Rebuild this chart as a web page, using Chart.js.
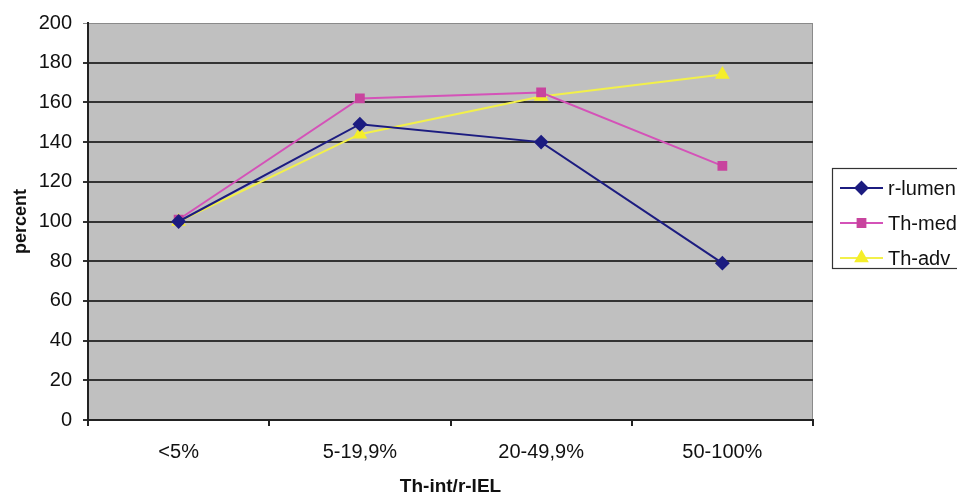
<!DOCTYPE html>
<html>
<head>
<meta charset="utf-8">
<script src="https://cdn.jsdelivr.net/npm/chart.js@4"></script>
<style>
  html, body { margin: 0; padding: 0; background: #fff; overflow: hidden; }
  #wrap { width: 957px; height: 499px; position: relative; }
</style>
</head>
<body>
<div id="wrap"><canvas id="chart" width="957" height="499"></canvas></div>
<script>
// ======= Data =======
const categories = ["<5%", "5-19,9%", "20-49,9%", "50-100%"];
const seriesNames = ["r-lumen", "Th-med", "Th-adv"];
const rLumen = [100, 149, 140, 79];
const thMed = [101, 162, 165, 128];
const thAdv = [100, 144, 163, 174];
const yTicks = [0, 20, 40, 60, 80, 100, 120, 140, 160, 180, 200];

const FONT = "'Liberation Sans', Arial, sans-serif";

// ======= Plot background + frame =======
const plotBg = {
  id: "plotBg",
  beforeDraw(chart) {
    const { ctx, chartArea: a } = chart;
    ctx.save();
    ctx.fillStyle = "#c0c0c0";
    ctx.fillRect(a.left, a.top, a.right - a.left, a.bottom - a.top);
    ctx.strokeStyle = "#8a8a8a";
    ctx.lineWidth = 1;
    ctx.strokeRect(a.left + 0.5, a.top + 0.5, a.right - a.left - 1, a.bottom - a.top);
    ctx.restore();
  }
};

// ======= Excel-style legend (line + marker) =======
const boxLegend = {
  id: "boxLegend",
  afterDraw(chart) {
    const { ctx } = chart;
    const left = 832, top = 168, bottom = 268, rowGap = 35;
    ctx.save();
    ctx.fillStyle = "#ffffff";
    ctx.fillRect(left, top, 200, bottom - top);
    ctx.strokeStyle = "#333333";
    ctx.lineWidth = 1.2;
    ctx.strokeRect(left + 0.5, top + 0.5, 200, bottom - top);
    chart.data.datasets.forEach((ds, i) => {
      const y = top + 20 + i * rowGap;
      ctx.strokeStyle = ds.borderColor;
      ctx.lineWidth = 2;
      ctx.beginPath();
      ctx.moveTo(840, y);
      ctx.lineTo(883, y);
      ctx.stroke();
      ctx.fillStyle = ds.pointBackgroundColor;
      ctx.strokeStyle = ds.pointBorderColor;
      Chart.helpers.drawPoint(ctx, { pointStyle: ds.pointStyle, radius: ds.pointRadius, rotation: 0, borderWidth: 1 }, 861.5, y);
      ctx.fillStyle = "#111";
      ctx.font = "20px " + FONT;
      ctx.textBaseline = "middle";
      ctx.textAlign = "left";
      ctx.fillText(ds.label, 888, y + 1);
    });
    ctx.restore();
  }
};

const ctx = document.getElementById("chart").getContext("2d");
new Chart(ctx, {
  type: "line",
  data: {
    labels: categories,
    datasets: [
      { label: seriesNames[0], data: rLumen, borderColor: "#1c1c80", pointBackgroundColor: "#1c1c80", pointBorderColor: "#1c1c80", pointStyle: "rectRot", pointRadius: 6, borderWidth: 2 },
      { label: seriesNames[1], data: thMed, borderColor: "#d452b8", pointBackgroundColor: "#c8449e", pointBorderColor: "#c8449e", pointStyle: "rect", pointRadius: 5.5, borderWidth: 2 },
      { label: seriesNames[2], data: thAdv, borderColor: "#f2f04a", pointBackgroundColor: "#f5ee2a", pointBorderColor: "#f5ee2a", pointStyle: "triangle", pointRadius: 6.5, borderWidth: 2 }
    ]
  },
  options: {
    responsive: false,
    animation: false,
    layout: { padding: { top: 22, right: 144, left: 0, bottom: 0 } },
    plugins: {
      legend: { display: false },
      tooltip: { enabled: false }
    },
    scales: {
      x: {
        offset: true,
        grid: { offset: true, drawOnChartArea: false, drawTicks: true, tickLength: 6, color: "#222", lineWidth: 2 },
        border: { color: "#222", width: 2 },
        ticks: { color: "#111", font: { family: FONT, size: 20 }, padding: 14, maxRotation: 0 },
        title: { display: true, text: "Th-int/r-IEL", color: "#111", font: { family: FONT, size: 19, weight: "bold" }, padding: { top: 0, bottom: 1 } },
        afterFit(scale) { scale.height = 79; }
      },
      y: {
        min: 0,
        max: 200,
        afterBuildTicks(scale) { scale.ticks = yTicks.map(v => ({ value: v })); },
        grid: {
          color: c => (c.tick && c.tick.value === 200 ? "#8a8a8a" : "#333333"),
          lineWidth: c => (c.tick && c.tick.value === 200 ? 1 : 2),
          tickLength: 5
        },
        border: { color: "#222", width: 2 },
        ticks: { color: "#111", font: { family: FONT, size: 20 }, padding: 11 },
        title: { display: true, text: "percent", color: "#111", font: { family: FONT, size: 18, weight: "bold" }, padding: { top: 10, bottom: 0 } },
        afterFit(scale) { scale.width = 88; }
      }
    }
  },
  plugins: [plotBg, boxLegend]
});
</script>
</body>
</html>
